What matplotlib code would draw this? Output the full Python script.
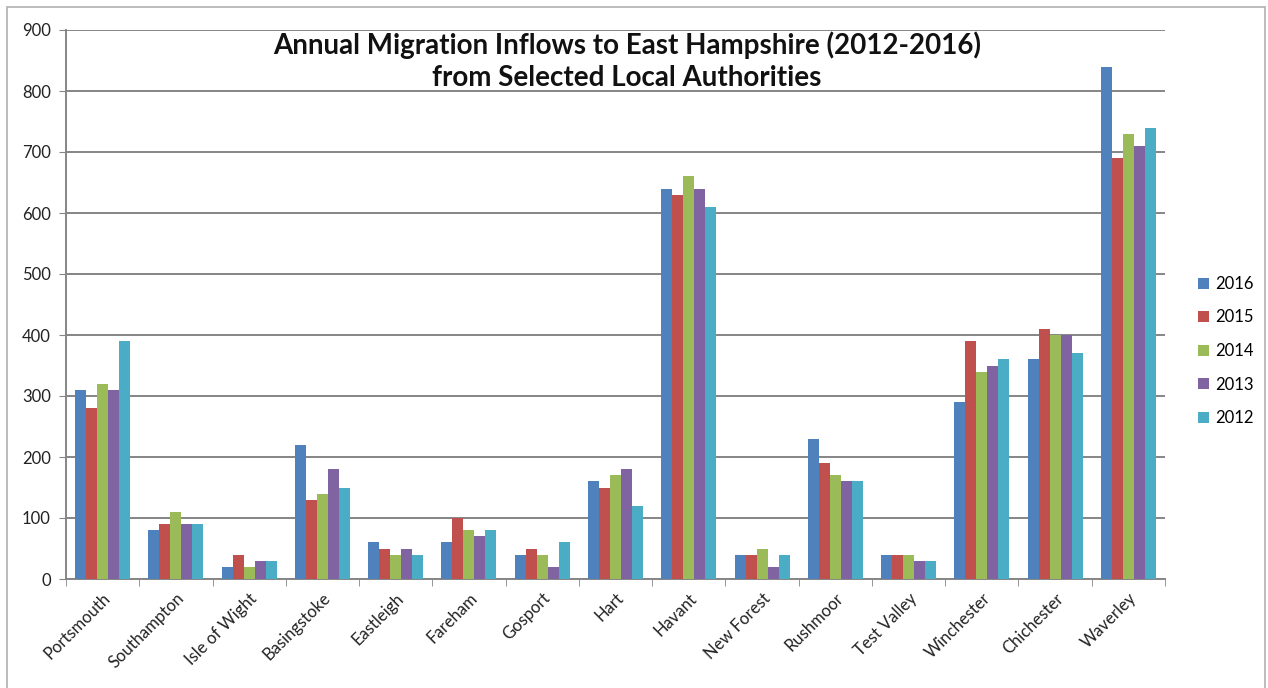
import matplotlib
matplotlib.use("Agg")
import matplotlib.pyplot as plt
import numpy as np
from matplotlib.patches import Rectangle

categories = ["Portsmouth", "Southampton", "Isle of Wight", "Basingstoke", "Eastleigh",
              "Fareham", "Gosport", "Hart", "Havant", "New Forest", "Rushmoor",
              "Test Valley", "Winchester", "Chichester", "Waverley"]
years = ["2016", "2015", "2014", "2013", "2012"]
v2016 = [310, 80, 20, 220, 60, 60, 40, 160, 640, 40, 230, 40, 290, 360, 840]
v2015 = [280, 90, 40, 130, 50, 100, 50, 150, 630, 40, 190, 40, 390, 410, 690]
v2014 = [320, 110, 20, 140, 40, 80, 40, 170, 660, 50, 170, 40, 340, 400, 730]
v2013 = [310, 90, 30, 180, 50, 70, 20, 180, 640, 20, 160, 30, 350, 400, 710]
v2012 = [390, 90, 30, 150, 40, 80, 60, 120, 610, 40, 160, 30, 360, 370, 740]
series = [v2016, v2015, v2014, v2013, v2012]
colors = ["#4F81BD", "#C0504D", "#9BBB59", "#8064A2", "#4BACC6"]

plt.rcParams['font.family'] = ['Lato', 'DejaVu Sans']

W, H = 1268, 688
fig = plt.figure(figsize=(W / 100, H / 100), dpi=100)
fig.patches.append(Rectangle((7 / W, -0.01), (1265 - 7) / W, (H - 7) / H + 0.01,
                             transform=fig.transFigure, fill=False,
                             edgecolor="#b0b0b0", linewidth=1.2))

left, right, top, bottom = 66, 1165, 30, 579
ax = fig.add_axes([left / W, 1 - bottom / H, (right - left) / W, (bottom - top) / H])

x = np.arange(len(categories))
bw = 0.15
for i, (vals, c, yr) in enumerate(zip(series, colors, years)):
    ax.bar(x + (i - 2) * bw, vals, width=bw, color=c, label=yr, zorder=3)

ax.set_xlim(-0.5, len(categories) - 0.5)
ax.set_ylim(0, 900)
ax.set_yticks(range(0, 901, 100))
ax.yaxis.grid(True, color="#858585", linewidth=1.4, zorder=0)
ax.set_xticks(x)
ax.set_xticklabels(categories, rotation=45, ha="right", rotation_mode="anchor",
                   fontsize=12, color="#222222")
ax.set_xticks(np.arange(-0.5, len(categories), 1), minor=True)
ax.tick_params(axis="x", which="major", length=0, pad=8)
ax.tick_params(axis="x", which="minor", length=5, color="#858585", direction="out")
ax.tick_params(axis="y", length=5, color="#858585", labelsize=12, labelcolor="#222222", pad=6)
for s in ["top", "right"]:
    ax.spines[s].set_visible(False)
for s in ["left", "bottom"]:
    ax.spines[s].set_color("#858585")
    ax.spines[s].set_linewidth(1.4)

fig.text(627 / W, 1 - 45 / H, "Annual Migration Inflows to East Hampshire (2012-2016)",
         ha="center", va="center", fontsize=20, fontweight="bold", color="#111111")
fig.text(627 / W, 1 - 78 / H, "from Selected Local Authorities",
         ha="center", va="center", fontsize=20, fontweight="bold", color="#111111")

leg = fig.legend(loc="center left", bbox_to_anchor=(1183 / W, 1 - 351 / H), frameon=False,
                 fontsize=12, handlelength=0.65, handleheight=0.65, handletextpad=0.4,
                 labelspacing=1.05)

fig.savefig("out.png", dpi=100, facecolor="white")
